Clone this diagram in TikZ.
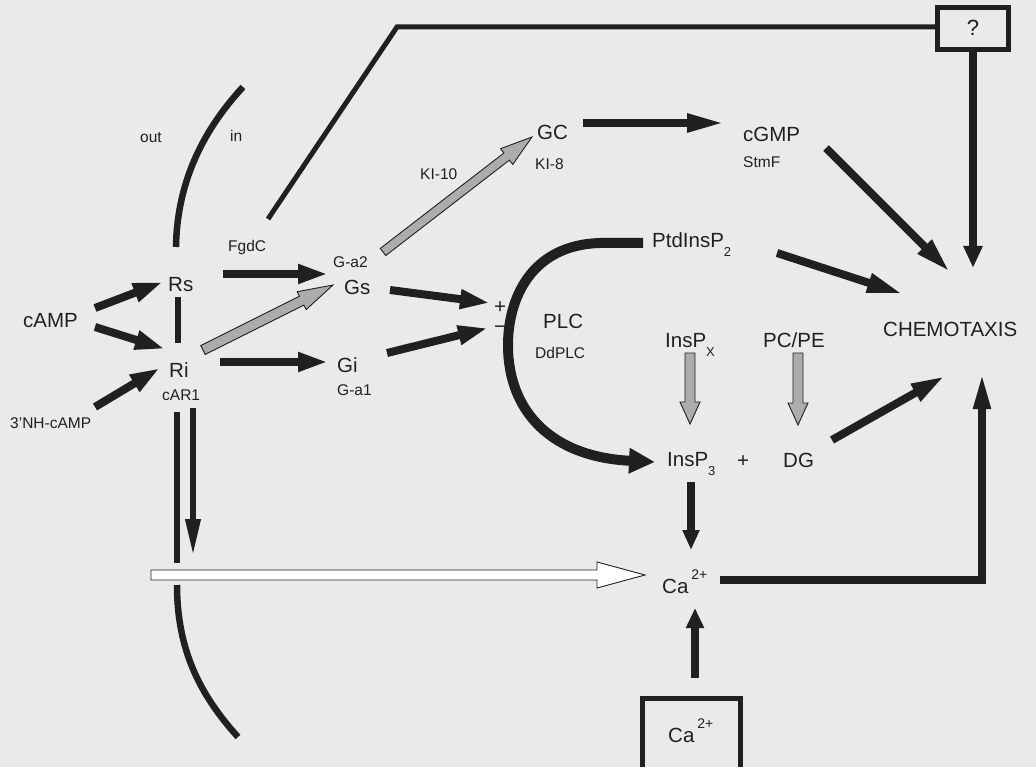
\documentclass[tikz,border=0pt]{standalone}
\usepackage{fontspec}
\setmainfont{Liberation Sans}
\usetikzlibrary{arrows.meta,calc}
\definecolor{bg}{RGB}{234,234,234}
\definecolor{ink}{RGB}{32,32,32}
\definecolor{stip}{RGB}{172,172,172}
\newcommand\sbx[1]{\raisebox{-9pt}{\fontsize{13}{13}\selectfont #1}}
\newcommand\spx[1]{\hspace{3pt}\raisebox{14pt}{\fontsize{14}{14}\selectfont #1}}
\newcommand\blockarr[6]{%
 \path[#1] let \p1=(#2), \p2=(#3), \n1={atan2(\y2-\y1,\x2-\x1)}, \n2={veclen(\x2-\x1,\y2-\y1)} in
 ([shift={(\p1)},rotate=\n1]0pt,#4pt) -- ([shift={(\p1)},rotate=\n1]{\n2-#6pt},#4pt) --
 ([shift={(\p1)},rotate=\n1]{\n2-#6pt},#5pt) -- ([shift={(\p1)},rotate=\n1]\n2,0pt) --
 ([shift={(\p1)},rotate=\n1]{\n2-#6pt},-#5pt) -- ([shift={(\p1)},rotate=\n1]{\n2-#6pt},-#4pt) --
 ([shift={(\p1)},rotate=\n1]0pt,-#4pt) -- cycle;}
\tikzset{
 lab/.style={font=\fontsize{20.5}{22}\selectfont, inner sep=0pt, text=ink, anchor=base west},
 slab/.style={font=\fontsize{15.5}{17}\selectfont, inner sep=0pt, text=ink, anchor=base west},
 sarrow/.style={draw=ink, line width=8pt, -{Triangle[length=30pt,width=18pt]}},
 stipple/.style={fill=stip, draw=ink, line width=0.9pt},
 openarr/.style={fill=white, draw=ink, line width=0.9pt},
 memb/.style={draw=ink, line width=6.5pt},
 thin5/.style={draw=ink, line width=5pt},
}
\begin{document}
\begin{tikzpicture}[x=1pt,y=-1pt]
\fill[bg] (0,0) rectangle (1036,767);
\useasboundingbox (0,0) rectangle (1036,767);

% ---------- text nodes ----------
\node[slab] (out) at (140,143) {out};
\node[slab] (in) at (230,142) {in};
\node[slab] (fgdc) at (228,252) {FgdC};
\node[lab] (rs) at (168,292) {Rs};
\node[lab] (camp) at (23,327) {cAMP};
\node[lab] (ri) at (169,377) {Ri};
\node[slab] (car1) at (162,400) {cAR1};
\node[slab] (nhcamp) at (10,428) {3’NH-cAMP};
\node[slab] (ga2) at (333,268) {G-a2};
\node[lab] (gs) at (344,295) {Gs};
\node[lab] (gi) at (337,372) {Gi};
\node[slab] (ga1) at (337,395) {G-a1};
\node[slab] (ki10) at (420,180) {KI-10};
\node[lab] (gc) at (537,140) {GC};
\node[slab] (ki8) at (535,170) {KI-8};
\node[lab] (cgmp) at (743,142) {cGMP};
\node[slab] (stmf) at (743,168) {StmF};
\node[lab] (ptd) at (652,248) {PtdInsP\sbx{2}};
\node[lab] (plus) at (494,314) {+};
\node[lab] (minus) at (494,334) {−};
\node[lab] (plc) at (543,328) {PLC};
\node[slab] (ddplc) at (535,358) {DdPLC};
\node[lab] (insx) at (665,348) {InsP\sbx{X}};
\node[lab] (pcpe) at (763,348) {PC/PE};
\node[lab] (chemo) at (883,337) {CHEMOTAXIS};
\node[lab] (ins3) at (667,466) {InsP\sbx{3}};
\node[lab] (plus2) at (737,467) {+};
\node[lab] (dg) at (783,467) {DG};
\node[lab] (ca) at (662,593) {Ca\spx{2+}};
\node[lab] (cab) at (668,742) {Ca\spx{2+}};
\node[font=\fontsize{22}{24}\selectfont, text=ink, inner sep=0pt] (q) at (973,28) {?};

% ---------- boxes ----------
\draw[ink, line width=5pt] (937,8) rectangle (1008,50);
\draw[ink, line width=5pt] (642,770) -- (642,698) -- (740,698) -- (740,770);

% ---------- membrane ----------
\draw[memb] (243,87) .. controls (205,128) and (177,180) .. (176,247);
\draw[memb] (178,297) -- (178,343);
\draw[memb] (177,412) -- (177,563);
\draw[memb] (177,585) .. controls (177,650) and (200,695) .. (238,737);

% ---------- coordinates ----------
\coordinate (a1s) at (95,308); \coordinate (a1e) at (163,282);
\coordinate (a2s) at (95,327); \coordinate (a2e) at (165,349);
\coordinate (a3s) at (95,407); \coordinate (a3e) at (160,368);
\coordinate (a4s) at (223,274); \coordinate (a4e) at (328,274);
\coordinate (a5s) at (220,362); \coordinate (a5e) at (328,362);
\coordinate (a6s) at (390,290); \coordinate (a6e) at (490,303);
\coordinate (a7s) at (387,353); \coordinate (a7e) at (488,328);
\coordinate (a8s) at (583,123); \coordinate (a8e) at (725,123);
\coordinate (a9s) at (826,148); \coordinate (a9e) at (950,272);
\coordinate (a10s) at (777,253); \coordinate (a10e) at (903,294);
\coordinate (a11s) at (973,50); \coordinate (a11e) at (973,268);
\coordinate (a12s) at (832,440); \coordinate (a12e) at (945,376);
\coordinate (a13s) at (691,482); \coordinate (a13e) at (691,550);
\coordinate (a14s) at (695,678); \coordinate (a14e) at (695,608);
\coordinate (a15s) at (720,580); \coordinate (a15e) at (982,373);
\coordinate (a16s) at (193,408); \coordinate (a16e) at (193,557);
\coordinate (s1s) at (203,350); \coordinate (s1e) at (333,285);
\coordinate (s2s) at (383,252); \coordinate (s2e) at (532,137);
\coordinate (s3s) at (690,353); \coordinate (s3e) at (690,424);
\coordinate (s4s) at (798,353); \coordinate (s4e) at (798,425);
\coordinate (o1s) at (151,575); \coordinate (o1e) at (645,575);
\coordinate (qs) at (268,219);
\coordinate (qc) at (397,27);
\coordinate (qe) at (937,27);

% ---------- solid arrows ----------
\draw[sarrow] (a1s) -- (a1e);
\draw[sarrow] (a2s) -- (a2e);
\draw[sarrow] (a3s) -- (a3e);
\draw[sarrow] (a4s) -- (a4e);
\draw[sarrow] (a5s) -- (a5e);
\draw[sarrow] (a6s) -- (a6e);
\draw[sarrow] (a7s) -- (a7e);
\draw[sarrow, -{Triangle[length=38pt,width=17pt]}] (a8s) -- (a8e);
\draw[sarrow, -{Triangle[length=36pt,width=18pt]}] (a9s) -- (a9e);
\draw[sarrow, -{Triangle[length=36pt,width=18pt]}] (a10s) -- (a10e);
\draw[sarrow, -{Triangle[length=22pt,width=18pt]}] (a11s) -- (a11e);
\draw[sarrow, -{Triangle[length=34pt,width=18pt]}] (a12s) -- (a12e);
\draw[sarrow, -{Triangle[length=20pt,width=16pt]}] (a13s) -- (a13e);
\draw[sarrow, -{Triangle[length=20pt,width=17pt]}] (a14s) -- (a14e);
\draw[sarrow, line width=7.5pt, -{Triangle[length=36pt,width=16pt]}] (a15s) -| (a15e);
\draw[sarrow, line width=6.5pt, -{Triangle[length=38pt,width=14pt]}] (a16s) -- (a16e);

% PLC curve
\draw[draw=ink, line width=10pt, -{Triangle[length=26pt,width=24pt]}]
  (643,243) -- (600,243) .. controls (530,245) and (508,300) .. (508,345)
  .. controls (508,412) and (552,457) .. (655,462);

% line to ? box
\draw[thin5] (qs) -- (qc) -- (qe);

% ---------- stippled and open arrows ----------
\blockarr{stipple}{s1s}{s1e}{5}{10}{35}
\blockarr{stipple}{s2s}{s2e}{4.5}{10}{32}
\blockarr{stipple}{s3s}{s3e}{5}{10}{22}
\blockarr{stipple}{s4s}{s4e}{5}{10}{22}
\blockarr{openarr}{o1s}{o1e}{5}{13}{48}
\end{tikzpicture}
\end{document}
